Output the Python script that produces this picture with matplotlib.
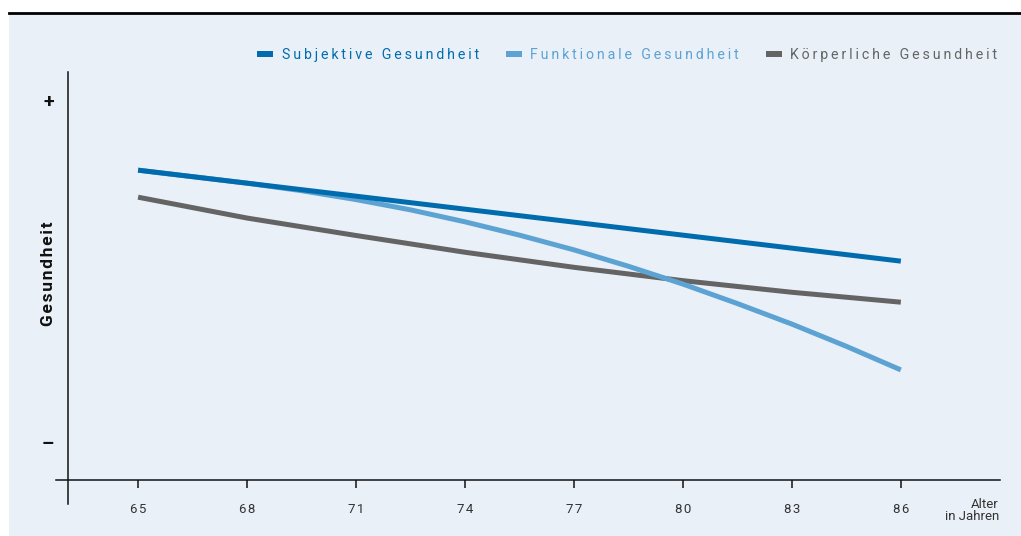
import matplotlib
matplotlib.use("Agg")
import matplotlib.pyplot as plt
from matplotlib.patches import Rectangle
from matplotlib.lines import Line2D

plt.rcParams['font.family'] = ['Roboto', 'DejaVu Sans']

# data (Gesundheit: 0 = "-", 10 = "+")
ages = [65, 68, 71, 74, 77, 80, 83, 86]
age_labels = ['65', '68', '71', '74', '77', '80', '83', '86']
subjektiv = [7.95, 7.57, 7.19, 6.81, 6.43, 6.05, 5.67, 5.29]
koerperlich = [7.16, 6.55, 6.04, 5.55, 5.11, 4.72, 4.38, 4.09]
ages_funktional = [65, 66.5, 68, 69.5, 71, 72.5, 74, 75.5, 77, 78.5, 80, 81.5, 83, 84.5, 86]
funktional = [7.95, 7.76, 7.57, 7.35, 7.09, 6.79, 6.44, 6.05, 5.62, 5.14, 4.62, 4.05, 3.45, 2.80, 2.11]

names = ['Subjektive Gesundheit', 'Funktionale Gesundheit', 'Körperliche Gesundheit']
colors = ['#006cae', '#5ca3d3', '#646464']

bg = '#e9f0f8'
W, H = 1021, 536


def spaced(s, sp='\u2009'):
    return sp.join(s)


fig = plt.figure(figsize=(W / 100, H / 100), dpi=100)
fig.patch.set_facecolor('white')
fig.patches.append(Rectangle((9 / W, 0), 1 - 9 / W, 1 - 14 / H, transform=fig.transFigure,
                             facecolor=bg, edgecolor='none', zorder=-5))
fig.lines.append(Line2D([9 / W, 1], [1 - 12.5 / H] * 2, transform=fig.transFigure,
                        color='black', lw=2.0))

ax = fig.add_axes([56 / W, 32 / H, 944 / W, 432 / H])
ax.patch.set_alpha(0)
ax.set_xlim(62.74, 88.73)
ax.set_ylim(-1.81, 10.82)

line_kw = dict(lw=3.6, solid_capstyle='butt', solid_joinstyle='round')
ax.plot(ages, koerperlich, color=colors[2], zorder=3, **line_kw)
ax.plot(ages_funktional, funktional, color=colors[1], zorder=4, **line_kw)
ax.plot(ages, subjektiv, color=colors[0], zorder=5, **line_kw)

for s in ['top', 'right']:
    ax.spines[s].set_visible(False)
ax.spines['left'].set_position(('data', 63.06))
ax.spines['bottom'].set_position(('data', -1.11))
for s in ['left', 'bottom']:
    ax.spines[s].set_linewidth(1.1)
    ax.spines[s].set_color('#111111')

ax.set_xticks(ages, [spaced(a, '\u200a') for a in age_labels])
ax.tick_params(axis='x', direction='out', length=5.8, width=1.1, color='#111111',
               pad=11, labelsize=9.5, labelcolor='#333333')
ax.set_yticks([0, 10], ['\u2013', '+'])
ax.tick_params(axis='y', length=0, pad=10, labelsize=14, labelcolor='#111111')
for t in ax.get_yticklabels():
    t.set_fontweight('bold')

ax.set_ylabel(spaced('Gesundheit', '\u200a'), fontsize=12.5, fontweight='bold', color='#111111')
ax.yaxis.set_label_coords((48.5 - 56) / 944, (504 - 273.5) / 432)
ax.yaxis.label.set_va('center')

ax.text(999 / W, 1 - 504 / H, 'Alter', transform=fig.transFigure,
        ha='right', va='center', fontsize=9.5, color='#333333')
ax.text(999 / W, 1 - 517 / H, 'in Jahren', transform=fig.transFigure,
        ha='right', va='center', fontsize=9.5, color='#333333')

# legend
sq_x = [257, 506, 766]
tx_x = [282, 530, 790]
for i in range(3):
    fig.patches.append(Rectangle((sq_x[i] / W, 1 - 57 / H), 16 / W, 6 / H,
                                 transform=fig.transFigure, facecolor=colors[i],
                                 edgecolor='none', zorder=3))
    fig.text(tx_x[i] / W, 1 - 59 / H, spaced(names[i]), color=colors[i], fontsize=10.2,
             ha='left', va='baseline')

fig.savefig('out.png', dpi=100, facecolor=fig.get_facecolor())
